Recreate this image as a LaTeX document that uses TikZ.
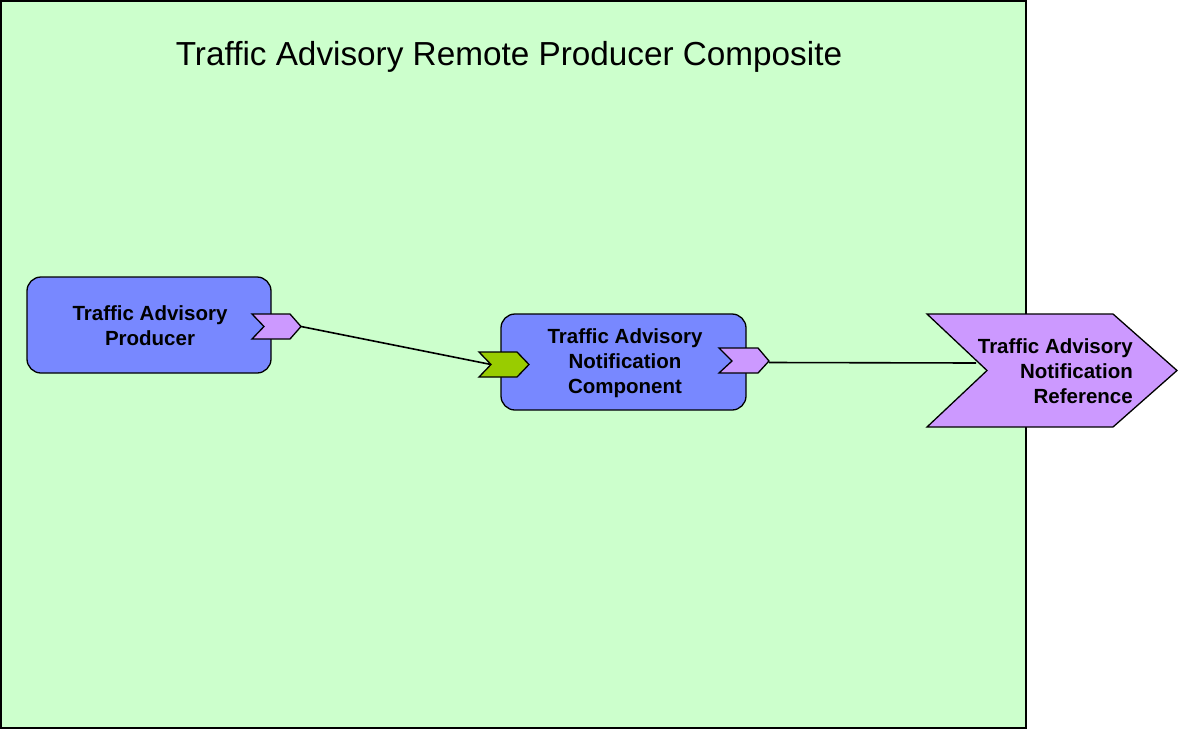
\documentclass[tikz,border=0pt]{standalone}
\usepackage{fontspec}
\setmainfont{Liberation Sans}
\definecolor{compgreen}{HTML}{CCFFCC}
\definecolor{boxblue}{HTML}{7888FF}
\definecolor{portpurple}{HTML}{CC99FF}
\definecolor{portgreen}{HTML}{99CC00}
\begin{document}
\begin{tikzpicture}[x=1pt,y=-1pt,line join=miter,
  composite/.style={draw=black,line width=1.8pt,fill=compgreen},
  box/.style={draw=black,line width=1.3pt,fill=boxblue,rounded corners=14pt,inner sep=0pt},
  lbl/.style={font=\bfseries\fontsize{20.5}{25}\selectfont,text=black,inner sep=0pt},
  titlelbl/.style={font=\fontsize{33.3}{38}\selectfont,text=black,inner sep=0pt},
  port/.style={draw=black,line width=1.3pt},
  wire/.style={draw=black,line width=1.6pt}]
\useasboundingbox (0,0) rectangle (1180,731);
% composite
\draw[composite] (1,1) rectangle (1026,728);
\node[titlelbl,anchor=base] (title) at (509,65.5) {Traffic Advisory Remote Producer Composite};
% components
\node[box,minimum width=244pt,minimum height=96pt] (prod) at (149,325) {};
\node[lbl,align=center] (prodlbl) at (150,325.5) {Traffic Advisory\\Producer};
\node[box,minimum width=245pt,minimum height=96pt] (comp) at (623.5,362) {};
\node[lbl,align=center] (complbl) at (625,363) {Traffic Advisory\\Notification\\Component};
% ports
\draw[port,fill=portpurple] (252,314) -- (290,314) -- (301,326.5) -- (290,339) -- (252,339) -- (264,326.5) -- cycle;
\coordinate (prodout) at (301,326.5);
\draw[port,fill=portgreen] (479,352) -- (517,352) -- (529,364.5) -- (517,377) -- (479,377) -- (491,364.5) -- cycle;
\coordinate (compin) at (491,364.5);
\draw[port,fill=portpurple] (719,348) -- (758,348) -- (769,361) -- (758,373) -- (719,373) -- (732,361) -- cycle;
\coordinate (compout) at (769,362.5);
% reference
\draw[port,fill=portpurple] (927,314) -- (1113,314) -- (1177,370.5) -- (1113,427) -- (927,427) -- (987,370.5) -- cycle;
\node[lbl,align=right,anchor=east] (reflbl) at (1133,371) {Traffic Advisory\\Notification\\Reference};
\coordinate (refin) at (976,363);
% wires
\draw[wire] (prodout) -- (compin);
\draw[wire] (compout) -- (refin);
\end{tikzpicture}
\end{document}
